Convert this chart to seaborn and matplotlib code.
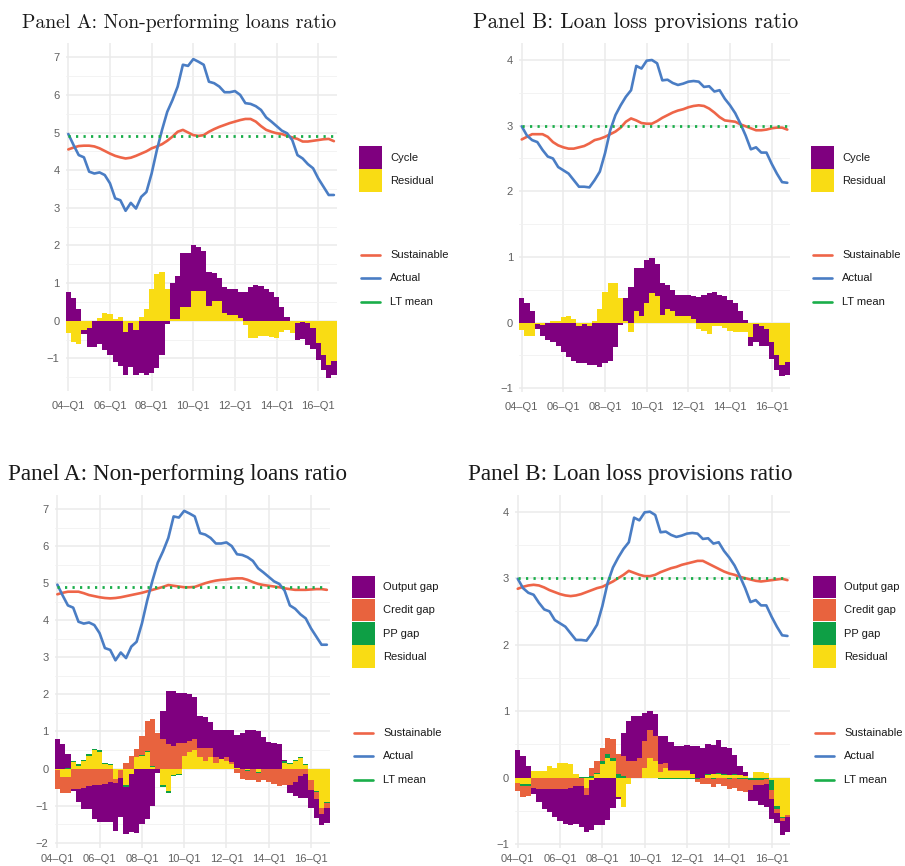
import numpy as np
import matplotlib
matplotlib.use("Agg")
import matplotlib.pyplot as plt
import seaborn as sns
from matplotlib.patches import Rectangle
from matplotlib.lines import Line2D

sns.set_theme(style="whitegrid")
plt.rcParams['font.family'] = ['Liberation Sans', 'DejaVu Sans']

# quarters 04-Q1 ... 16-Q4 (index)
quarter = np.arange(52)
tick_pos = [0, 8, 16, 24, 32, 40, 48]
tick_labels = ["04\u2013Q1", "06\u2013Q1", "08\u2013Q1", "10\u2013Q1", "12\u2013Q1", "14\u2013Q1", "16\u2013Q1"]

# ---- non-performing loans ratio ----
actual_npl = [4.96, 4.67, 4.40, 4.34, 3.96, 3.91, 3.94, 3.87, 3.65, 3.25, 3.20, 2.92, 3.13, 2.98, 3.29, 3.42,
              3.91, 4.53, 5.07, 5.55, 5.86, 6.22, 6.80, 6.77, 6.95, 6.88, 6.80, 6.35, 6.31, 6.22, 6.07, 6.07,
              6.10, 6.00, 5.78, 5.76, 5.70, 5.60, 5.40, 5.29, 5.17, 5.05, 4.98, 4.80, 4.40, 4.31, 4.16, 4.05,
              3.78, 3.56, 3.34, 3.34]
lt_mean_npl = 4.9

sust_npl_a = [4.55, 4.60, 4.64, 4.65, 4.65, 4.63, 4.58, 4.51, 4.44, 4.38, 4.34, 4.31, 4.33, 4.38, 4.44, 4.50,
              4.58, 4.63, 4.69, 4.78, 4.89, 5.02, 5.07, 5.00, 4.93, 4.91, 4.93, 5.02, 5.09, 5.15, 5.20, 5.25,
              5.29, 5.33, 5.36, 5.36, 5.29, 5.17, 5.07, 5.02, 4.98, 4.96, 4.91, 4.87, 4.83, 4.76, 4.76, 4.78,
              4.80, 4.82, 4.83, 4.77]
cycle_npl_a = [0.75, 0.60, 0.31, -0.10, -0.50, -0.70, -0.62, -0.78, -0.90, -1.10, -1.20, -1.15, -1.17, -1.20,
               -1.40, -1.43, -1.40, -1.27, -0.91, -0.10, 0.95, 1.15, 1.42, 1.42, 1.20, 1.17, 1.06, 0.90, 0.74,
               0.61, 0.69, 0.68, 0.68, 0.70, 0.77, 0.89, 0.95, 0.93, 0.83, 0.77, 0.64, 0.37, 0.09, 0.00, -0.45,
               -0.45, -0.60, -0.55, -0.45, -0.40, -0.35, -0.38]
resid_npl_a = [-0.33, -0.56, -0.62, -0.25, -0.20, 0.00, 0.08, 0.20, 0.18, 0.05, 0.10, -0.30, -0.05, -0.25,
               0.10, 0.32, 0.85, 1.25, 1.30, 0.85, 0.05, 0.05, 0.37, 0.37, 0.80, 0.80, 0.80, 0.40, 0.52, 0.52,
               0.20, 0.15, 0.15, 0.07, -0.12, -0.45, -0.45, -0.40, -0.40, -0.42, -0.45, -0.30, -0.25, -0.32,
               -0.05, -0.03, -0.05, -0.20, -0.60, -0.90, -1.18, -1.07]

sust_npl_b = [4.70, 4.74, 4.77, 4.77, 4.77, 4.73, 4.68, 4.65, 4.62, 4.60, 4.59, 4.60, 4.62, 4.65, 4.68, 4.71,
              4.74, 4.78, 4.82, 4.86, 4.90, 4.95, 4.93, 4.91, 4.89, 4.89, 4.90, 4.95, 5.00, 5.04, 5.07, 5.09,
              5.10, 5.12, 5.13, 5.13, 5.09, 5.03, 4.98, 4.95, 4.93, 4.91, 4.89, 4.86, 4.84, 4.82, 4.82, 4.82,
              4.83, 4.84, 4.84, 4.82]
outgap_npl_b = [0.80, 0.65, 0.36, -0.05, -0.35, -0.55, -0.62, -0.92, -0.98, -1.02, -1.10, -1.30, -1.05, -1.28,
                -1.55, -1.73, -1.50, -1.35, -1.01, -0.13, 0.75, 1.45, 1.48, 1.35, 1.35, 1.25, 1.12, 0.88, 0.85,
                0.70, 0.75, 0.80, 0.75, 0.86, 0.88, 0.95, 1.03, 1.05, 1.00, 0.85, 0.72, 0.68, 0.65, 0.03, -0.22,
                -0.40, -0.60, -0.65, -0.50, -0.50, -0.30, -0.40]
credgap_npl_b = [-0.52, -0.45, -0.45, -0.55, -0.55, -0.53, -0.48, -0.45, -0.45, -0.42, -0.35, -0.10, -0.20, 0.15,
                 0.33, 0.20, 0.50, 0.80, 1.28, 0.95, 0.80, 0.65, 0.60, 0.70, 0.35, 0.30, 0.30, 0.25, 0.35, 0.25,
                 0.15, 0.00, 0.10, 0.05, -0.10, -0.25, -0.25, -0.30, -0.25, -0.30, -0.35, -0.40, -0.45, -0.45,
                 -0.45, -0.35, -0.20, -0.15, -0.25, -0.20, -0.15, -0.15]
ppgap_npl_b = [0.00, 0.00, 0.02, 0.03, 0.03, 0.03, 0.03, 0.04, 0.04, 0.02, 0.02, 0.00, 0.00, -0.04, 0.00, 0.02,
               0.02, 0.02, 0.02, 0.00, -0.05, -0.05, -0.03, -0.02, 0.00, 0.00, 0.00, 0.00, 0.00, 0.00, 0.00, 0.00,
               0.00, 0.00, -0.02, -0.02, -0.02, -0.02, -0.02, -0.02, -0.02, -0.02, -0.02, 0.05, 0.03, 0.03, 0.03,
               0.02, -0.02, -0.02, -0.02, -0.02]
resid_npl_b = [-0.03, -0.22, -0.22, 0.17, 0.08, 0.20, 0.35, 0.50, 0.45, 0.12, 0.10, -0.28, -0.05, -0.45, -0.15,
               0.30, 0.35, 0.45, 0.05, 0.00, -0.45, -0.60, -0.18, -0.15, 0.35, 0.45, 0.50, 0.30, 0.20, 0.30, 0.15,
               0.25, 0.20, 0.12, 0.02, 0.00, -0.05, 0.00, -0.10, 0.00, 0.00, 0.00, 0.00, 0.15, 0.12, 0.20, 0.28,
               0.10, -0.30, -0.60, -1.05, -0.90]

# ---- loan loss provisions ratio ----
actual_llp = [2.99, 2.85, 2.78, 2.75, 2.63, 2.53, 2.50, 2.37, 2.32, 2.27, 2.17, 2.07, 2.07, 2.06, 2.17, 2.30,
              2.58, 2.93, 3.16, 3.31, 3.44, 3.54, 3.91, 3.87, 3.99, 4.00, 3.95, 3.69, 3.70, 3.65, 3.62, 3.64,
              3.67, 3.68, 3.67, 3.59, 3.60, 3.52, 3.54, 3.41, 3.31, 3.19, 3.03, 2.85, 2.64, 2.67, 2.59, 2.59,
              2.42, 2.27, 2.14, 2.13]
lt_mean_llp = 3.0

sust_llp_a = [2.79, 2.83, 2.87, 2.87, 2.87, 2.83, 2.75, 2.70, 2.67, 2.65, 2.65, 2.67, 2.69, 2.73, 2.78, 2.80,
              2.83, 2.87, 2.91, 2.97, 3.06, 3.11, 3.08, 3.04, 3.03, 3.03, 3.07, 3.12, 3.16, 3.20, 3.23, 3.25,
              3.28, 3.30, 3.31, 3.30, 3.26, 3.20, 3.13, 3.08, 3.07, 3.06, 3.02, 2.99, 2.96, 2.93, 2.93, 2.94,
              2.96, 2.97, 2.97, 2.94]
cycle_llp_a = [0.37, 0.30, 0.17, -0.07, -0.18, -0.27, -0.30, -0.35, -0.45, -0.52, -0.58, -0.57, -0.60, -0.60,
               -0.64, -0.68, -0.62, -0.58, -0.37, -0.04, 0.35, 0.55, 0.66, 0.73, 0.65, 0.53, 0.50, 0.48, 0.38,
               0.32, 0.32, 0.32, 0.32, 0.35, 0.39, 0.42, 0.45, 0.46, 0.42, 0.40, 0.35, 0.30, 0.18, 0.04, -0.13,
               -0.27, -0.30, -0.25, -0.25, -0.22, -0.17, -0.20]
resid_llp_a = [-0.11, -0.21, -0.21, -0.02, -0.03, 0.00, 0.03, 0.03, 0.08, 0.10, 0.05, -0.05, -0.02, -0.05, 0.03,
               0.20, 0.46, 0.60, 0.60, 0.38, 0.03, -0.15, 0.17, 0.10, 0.30, 0.45, 0.40, 0.12, 0.20, 0.18, 0.10,
               0.10, 0.10, 0.05, -0.10, -0.12, -0.17, -0.05, -0.05, -0.08, -0.12, -0.14, -0.15, -0.15, -0.22,
               -0.02, -0.05, -0.10, -0.30, -0.50, -0.65, -0.60]

sust_llp_b = [2.84, 2.87, 2.89, 2.90, 2.89, 2.86, 2.82, 2.79, 2.76, 2.74, 2.73, 2.74, 2.76, 2.79, 2.82, 2.85,
              2.87, 2.91, 2.95, 3.00, 3.05, 3.11, 3.08, 3.05, 3.03, 3.03, 3.05, 3.09, 3.12, 3.15, 3.17, 3.20,
              3.22, 3.24, 3.26, 3.26, 3.22, 3.18, 3.14, 3.10, 3.07, 3.05, 3.02, 3.00, 2.98, 2.96, 2.95, 2.96,
              2.97, 2.98, 2.99, 2.97]
outgap_llp_b = [0.42, 0.33, 0.17, -0.10, -0.20, -0.30, -0.35, -0.43, -0.48, -0.53, -0.55, -0.57, -0.62, -0.55,
                -0.75, -0.72, -0.72, -0.64, -0.46, -0.03, 0.35, 0.60, 0.67, 0.62, 0.42, 0.28, 0.32, 0.42, 0.40,
                0.42, 0.35, 0.35, 0.37, 0.43, 0.47, 0.44, 0.44, 0.44, 0.50, 0.40, 0.40, 0.28, 0.13, 0.05, -0.18,
                -0.25, -0.30, -0.35, -0.30, -0.16, -0.20, -0.22]
credgap_llp_b = [-0.12, -0.18, -0.15, -0.15, -0.16, -0.16, -0.16, -0.16, -0.16, -0.16, -0.15, -0.13, -0.12, -0.12,
                 0.12, 0.18, 0.20, 0.25, 0.28, 0.30, 0.30, 0.25, 0.25, 0.30, 0.40, 0.42, 0.38, 0.12, 0.07, 0.02,
                 0.02, 0.02, 0.02, 0.00, -0.05, -0.08, -0.10, -0.12, -0.10, -0.12, -0.15, -0.15, -0.18, -0.20,
                 -0.15, -0.08, -0.08, -0.08, -0.15, -0.05, -0.05, -0.03]
ppgap_llp_b = [0.00, -0.02, -0.03, 0.00, -0.01, -0.01, -0.01, -0.01, -0.01, -0.01, -0.01, 0.01, 0.01, 0.01, 0.02,
               0.02, 0.05, 0.05, 0.05, 0.05, 0.02, 0.00, 0.00, 0.00, 0.00, 0.00, 0.00, -0.02, -0.02, -0.02, -0.02,
               -0.02, -0.02, -0.02, -0.02, -0.01, 0.02, -0.02, 0.02, 0.02, -0.02, 0.02, -0.02, -0.02, -0.03, -0.03,
               -0.03, -0.02, -0.15, -0.05, -0.01, -0.01]
resid_llp_b = [-0.08, -0.10, -0.10, 0.10, 0.10, 0.10, 0.18, 0.15, 0.22, 0.22, 0.20, 0.05, 0.00, -0.15, -0.04,
               0.05, 0.20, 0.30, 0.25, -0.30, -0.45, -0.10, 0.00, 0.00, 0.15, 0.30, 0.25, 0.08, 0.15, 0.10, 0.10,
               0.10, 0.10, 0.05, 0.00, 0.00, 0.04, 0.05, 0.05, 0.04, 0.04, 0.04, 0.04, 0.03, 0.00, 0.08, 0.08,
               0.07, -0.03, -0.43, -0.60, -0.56]

# colours
PURPLE = "#7f007f"
ORANGE = "#e8633e"
GREEN_F = "#0e9f45"
YELLOW = "#f9dc14"
C_SUST = "#ee6548"
C_ACT = "#4a7dc4"
C_LT = "#1aae4a"

W, H = 905, 866
fig = plt.figure(figsize=(W / 100, H / 100), dpi=100)


def add_ax(left, top, right, bottom):
    return fig.add_axes([left / W, 1 - bottom / H, (right - left) / W, (bottom - top) / H])


def stack_bars(ax, comps):
    # comps ordered from nearest zero outward (ggplot position_stack)
    pos = np.zeros(52)
    neg = np.zeros(52)
    for vals, col in comps:
        v = np.asarray(vals, dtype=float)
        up = v > 0
        dn = v < 0
        ax.bar(quarter[up], v[up], bottom=pos[up], width=1.0, color=col, linewidth=0, antialiased=False)
        ax.bar(quarter[dn], v[dn], bottom=neg[dn], width=1.0, color=col, linewidth=0, antialiased=False)
        pos[up] += v[up]
        neg[dn] += v[dn]


def draw_lines(ax, sust, actual, lt):
    sns.lineplot(x=quarter, y=sust, color=C_SUST, linewidth=1.9, ax=ax)
    sns.lineplot(x=quarter, y=actual, color=C_ACT, linewidth=1.9, ax=ax)
    ax.plot([quarter[0], quarter[-1]], [lt, lt], color=C_LT, linewidth=2.0,
            linestyle=(0, (0.8, 1.9)))


def style(ax, ylim, ymin, ymax, xpad):
    ax.set_yticks(np.arange(ymin, ymax + 1))
    minor = np.arange(ymin - 0.5, ymax + 0.6, 1.0)
    ax.set_yticks(minor[(minor > ylim[0]) & (minor < ylim[1])], minor=True)
    ax.set_xticks(tick_pos)
    ax.set_xticklabels(tick_labels)
    ax.set_xlim(-0.5, 51.5)
    ax.set_ylim(*ylim)
    ax.set_facecolor("white")
    ax.grid(which="major", color="#ebebeb", linewidth=1.1)
    ax.grid(which="minor", axis="y", color="#f1f1f1", linewidth=0.6)
    ax.grid(which="minor", axis="x", visible=False)
    for s in ax.spines.values():
        s.set_visible(False)
    ax.tick_params(which="both", length=0, labelsize=8, labelcolor="#606060")
    ax.tick_params(axis="x", pad=xpad)
    ax.tick_params(axis="y", pad=4.5)
    ax.set_axisbelow(True)
    ax.set_xlabel("")
    ax.set_ylabel("")


def legends(fills, sq_x, sq_top, line_top, pitch=23.3):
    # fill keys: adjacent squares, labels to the right (pixel layout of the original)
    for k, (lab, col) in enumerate(fills):
        top = sq_top + k * pitch
        fig.add_artist(Rectangle((sq_x / W, 1 - (top + pitch - 0.8) / H), 23 / W, (pitch - 0.8) / H,
                                 transform=fig.transFigure, facecolor=col, edgecolor="none"))
        fig.text((sq_x + 31) / W, 1 - (top + pitch / 2) / H, lab, fontsize=8, color="#1a1a1a",
                 va="center", ha="left")
    lines = [("Sustainable", C_SUST), ("Actual", C_ACT), ("LT mean", C_LT)]
    for k, (lab, col) in enumerate(lines):
        yc = line_top + k * pitch + pitch / 2
        fig.add_artist(Line2D([(sq_x + 2) / W, (sq_x + 21) / W], [1 - yc / H, 1 - yc / H],
                              transform=fig.transFigure, color=col, linewidth=1.9))
        fig.text((sq_x + 31) / W, 1 - yc / H, lab, fontsize=8, color="#1a1a1a", va="center", ha="left")


# Panel A (top): NPL, cycle / residual
ax1 = add_ax(65.7, 43.3, 336.5, 390.7)
stack_bars(ax1, [(resid_npl_a, YELLOW), (cycle_npl_a, PURPLE)])
draw_lines(ax1, sust_npl_a, actual_npl, lt_mean_npl)
style(ax1, (-1.86, 7.37), -1, 7, 7.5)
legends([("Cycle", PURPLE), ("Residual", YELLOW)], 359, 146, 243.5)

# Panel B (top): LLP, cycle / residual
ax2 = add_ax(519.1, 43.0, 789.9, 391.7)
stack_bars(ax2, [(resid_llp_a, YELLOW), (cycle_llp_a, PURPLE)])
draw_lines(ax2, sust_llp_a, actual_llp, lt_mean_llp)
style(ax2, (-1.052, 4.259), -1, 4, 7.5)
legends([("Cycle", PURPLE), ("Residual", YELLOW)], 811, 146, 243.5)

# Panel A (bottom): NPL, output / credit / PP gaps
ax3 = add_ax(54.7, 495, 329.5, 848)
stack_bars(ax3, [(resid_npl_b, YELLOW), (ppgap_npl_b, GREEN_F), (credgap_npl_b, ORANGE), (outgap_npl_b, PURPLE)])
draw_lines(ax3, sust_npl_b, actual_npl, lt_mean_npl)
style(ax3, (-2.142, 7.378), -2, 7, 4.5)
legends([("Output gap", PURPLE), ("Credit gap", ORANGE), ("PP gap", GREEN_F), ("Residual", YELLOW)],
        352, 575.5, 721.5)

# Panel B (bottom): LLP, output / credit / PP gaps
ax4 = add_ax(515.1, 495, 790.1, 848)
stack_bars(ax4, [(resid_llp_b, YELLOW), (ppgap_llp_b, GREEN_F), (credgap_llp_b, ORANGE), (outgap_llp_b, PURPLE)])
draw_lines(ax4, sust_llp_b, actual_llp, lt_mean_llp)
style(ax4, (-1.06, 4.251), -1, 4, 4.5)
legends([("Output gap", PURPLE), ("Credit gap", ORANGE), ("PP gap", GREEN_F), ("Residual", YELLOW)],
        813, 575.5, 721.5)

# titles
fig.text(22 / W, 1 - 28 / H, "Panel A: Non-performing loans ratio", family="cmr10", fontsize=14.2,
         color="#1a1a1a", va="baseline", ha="left")
fig.text(473 / W, 1 - 28 / H, "Panel B: Loan loss provisions ratio", family="cmr10", fontsize=15.3,
         color="#1a1a1a", va="baseline", ha="left")
fig.text(8 / W, 1 - 480 / H, "Panel A: Non-performing loans ratio", family="Liberation Serif", fontsize=16.7,
         color="#1a1a1a", va="baseline", ha="left")
fig.text(468 / W, 1 - 480 / H, "Panel B: Loan loss provisions ratio", family="Liberation Serif", fontsize=16.7,
         color="#1a1a1a", va="baseline", ha="left")

fig.savefig("out.png", dpi=100)
